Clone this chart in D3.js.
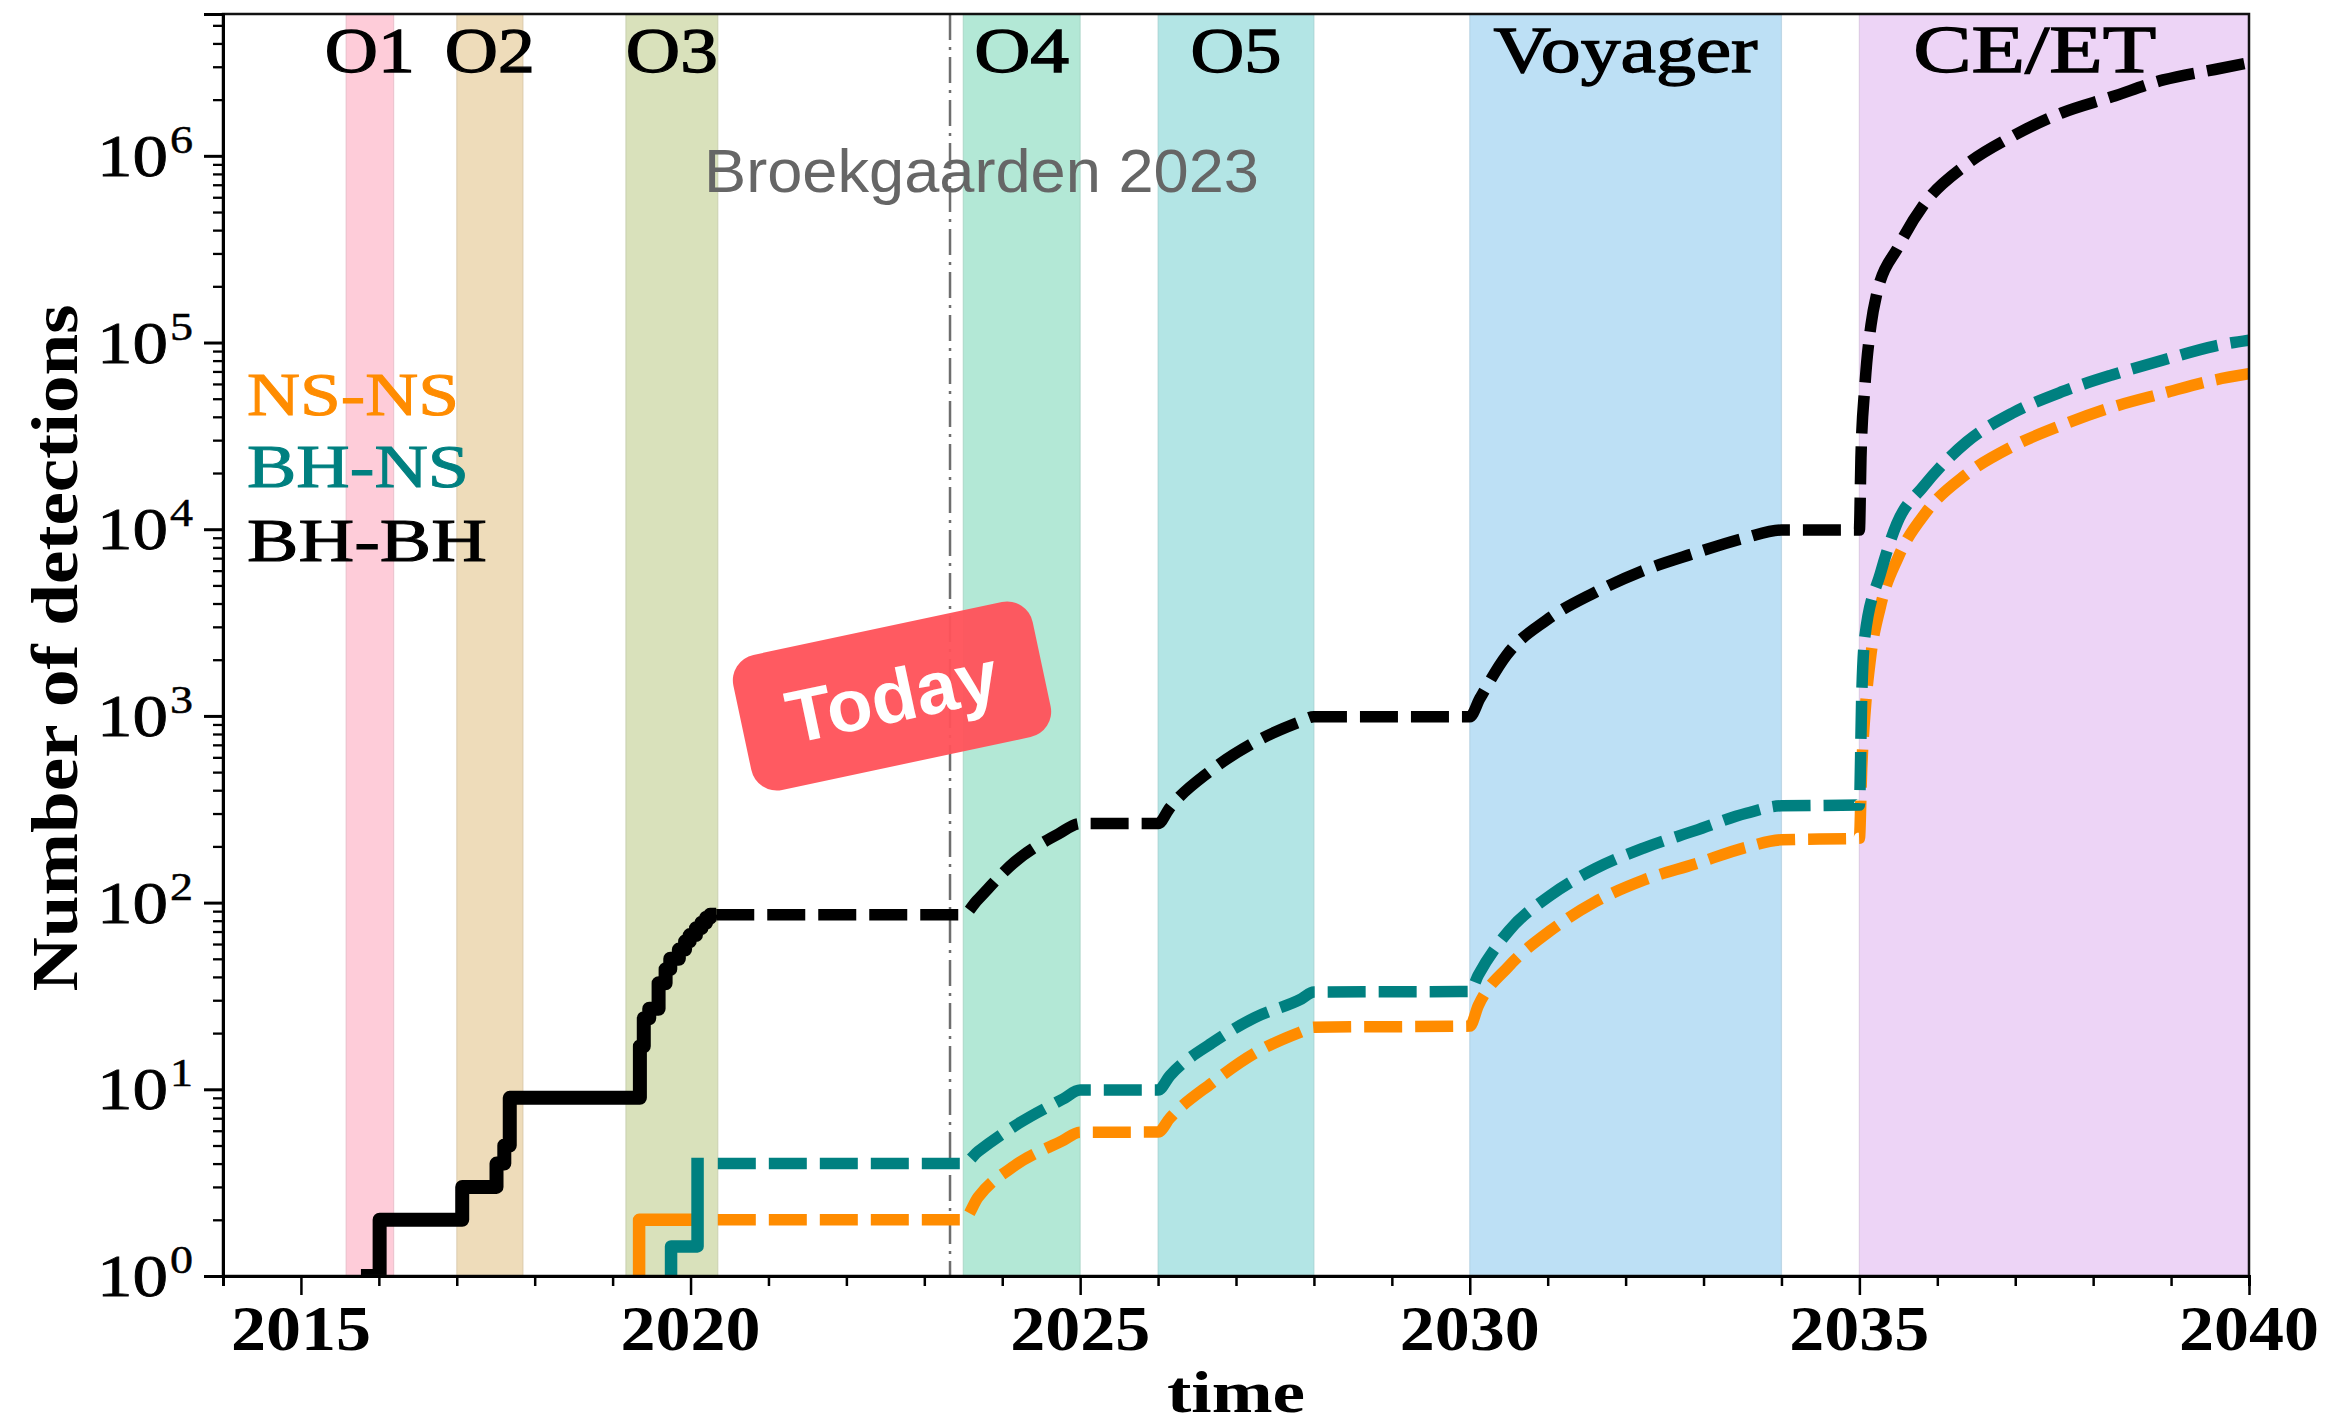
<!DOCTYPE html>
<html><head><meta charset="utf-8">
<script src="https://cdn.jsdelivr.net/npm/d3@7"></script>
<style>html,body{margin:0;padding:0;background:#fff;} svg{display:block;}</style>
</head><body>
<svg id="chart" width="2326" height="1424"></svg>
<script>
// ---------------- data ----------------
const bandNames  = ["O1", "O2", "O3", "O4", "O5", "Voyager", "CE/ET"];
const bandStart  = [2015.58, 2017.0, 2019.17, 2023.5, 2026.0, 2030.0, 2035.0];
const bandEnd    = [2016.19, 2017.85, 2020.35, 2025.0, 2028.0, 2034.0, 2040.0];
const bandLabelX = [2015.885, 2017.425, 2019.76, 2024.25, 2027.0, 2032.0, 2037.25];
const bandColors = ["#FECCD9", "#EEDCBA", "#D9E1BB", "#B3E8D6", "#B3E5E5", "#BDE0F5", "#EDD4F6"];

const todayYear = 2023.33;
const sourceLabel = "Broekgaarden 2023";
const todayLabel = "Today";

const seriesNames  = ["NS-NS", "BH-NS", "BH-BH"];
const seriesColors = ["#FF8C00", "#008080", "#000000"];

// observed (solid, step) counts: [year, cumulative detections]
const nsnsObserved = [[2019.2, 0.5], [2019.34, 2], [2020.09, 2]];
const bhnsObserved = [[2019.6, 0.5], [2019.75, 1.44], [2020.09, 4.3]];
const bhbhObserved = [
  [2015.77, 1], [2016.01, 2], [2017.07, 3], [2017.51, 4], [2017.61, 5], [2017.68, 9],
  [2019.35, 17], [2019.40, 24], [2019.47, 27], [2019.59, 37], [2019.68, 44], [2019.74, 50],
  [2019.85, 56], [2019.93, 62], [2019.99, 67], [2020.07, 73], [2020.14, 78], [2020.20, 83],
  [2020.25, 86], [2020.33, 86]
];

// projected (dashed) counts: [year, cumulative detections]
const nsnsProjected = [
  [2020.35, 2], [2023.5, 2], [2023.69, 2.64], [2024.16, 3.9], [2024.77, 5.29], [2025.0, 5.89],
  [2026.0, 5.9], [2026.15, 7.0], [2026.69, 10.8], [2027.24, 15.6], [2027.82, 20.2], [2028.0, 21.5],
  [2030.0, 21.8], [2030.11, 28.1], [2030.5, 45.6], [2031.03, 70.5], [2031.61, 101], [2032.23, 132],
  [2032.89, 161], [2033.55, 198], [2034.0, 217], [2035.0, 221], [2035.03, 525], [2035.07, 1010],
  [2035.14, 2000], [2035.27, 3850], [2035.5, 7100], [2035.86, 12400], [2036.36, 19500],
  [2036.96, 27700], [2037.6, 36100], [2038.24, 45000], [2038.9, 53500], [2039.56, 63000], [2040.0, 68000]
];
const bhnsProjected = [
  [2020.35, 4], [2023.5, 4], [2023.69, 4.64], [2024.21, 6.56], [2024.78, 8.87], [2025.0, 9.9],
  [2026.0, 9.9], [2026.15, 11.8], [2026.69, 17.7], [2027.24, 24.2], [2027.84, 30.5], [2028.0, 33.2],
  [2030.0, 33.4], [2030.11, 41], [2030.5, 70.5], [2031.03, 109], [2031.61, 152], [2032.23, 196],
  [2032.89, 243], [2033.55, 301], [2034.0, 330], [2035.0, 333], [2035.03, 1270], [2035.07, 2650],
  [2035.27, 5800], [2035.48, 10700], [2035.82, 16900], [2036.38, 29400], [2036.96, 41800],
  [2037.6, 54500], [2038.24, 67000], [2038.9, 80600], [2039.56, 95800], [2040.0, 103000]
];
const bhbhProjected = [
  [2020.33, 86], [2023.5, 86], [2023.67, 102], [2024.16, 165], [2024.72, 233], [2025.0, 265],
  [2026.0, 265], [2026.15, 322], [2026.67, 507], [2027.22, 716], [2027.82, 929], [2028.0, 990],
  [2030.0, 990], [2030.13, 1240], [2030.47, 2110], [2030.99, 3270], [2031.59, 4550], [2032.21, 5970],
  [2032.87, 7400], [2033.53, 8980], [2034.0, 9900], [2035.0, 9900], [2035.02, 24000], [2035.07, 58000],
  [2035.15, 125000], [2035.22, 180000], [2035.5, 326000], [2035.84, 557000], [2036.36, 890000],
  [2036.96, 1270000], [2037.6, 1700000], [2038.24, 2070000], [2038.9, 2550000], [2039.56, 2900000],
  [2040.0, 3150000]
];

const xTickYears  = [2015, 2020, 2025, 2030, 2035, 2040];
const xMinorYears = d3.range(2014, 2041);
const yTickPowers = [0, 1, 2, 3, 4, 5, 6];
const xDomain = [2014, 2040];
const yDomain = [1, 5.75e6];
const xTitle = "time";
const yTitle = "Number of detections";

// ---------------- layout ----------------
const W = 2326, H = 1424;
const plot = {left: 223, right: 2249, top: 14, bottom: 1276};
const serif = "'Liberation Serif', 'Times New Roman', serif";
const sans = "'Liberation Sans', Arial, sans-serif";

const svg = d3.select("#chart");
svg.append("rect").attr("width", W).attr("height", H).attr("fill", "#fff");

const x = d3.scaleLinear().domain(xDomain).range([plot.left, plot.right]);
const y = d3.scaleLog().domain(yDomain).range([plot.bottom, plot.top]);

svg.append("defs").append("clipPath").attr("id", "clip")
  .append("rect").attr("x", plot.left).attr("y", plot.top)
  .attr("width", plot.right - plot.left).attr("height", plot.bottom - plot.top);

// bands
const bands = bandNames.map((n, i) => ({name: n, s: bandStart[i], e: bandEnd[i], lx: bandLabelX[i], c: bandColors[i]}));
svg.append("g").selectAll("rect").data(bands).join("rect")
  .attr("x", d => x(d.s)).attr("y", plot.top)
  .attr("width", d => x(d.e) - x(d.s)).attr("height", plot.bottom - plot.top)
  .attr("fill", d => d.c)
  .attr("stroke", d => d3.color(d.c).darker(0.35)).attr("stroke-width", 1.2).attr("stroke-opacity", 0.6);

// today line
svg.append("line")
  .attr("x1", x(todayYear)).attr("x2", x(todayYear))
  .attr("y1", plot.top).attr("y2", plot.bottom)
  .attr("stroke", "#6e6e6e").attr("stroke-width", 2.5)
  .attr("stroke-dasharray", "26,7,3,7");

// band labels
const bandLabelSize = {"O1": [64, 90], "O2": [64, 90], "O3": [64, 92], "O4": [64, 95], "O5": [64, 91], "Voyager": [66, 264], "CE/ET": [68, 243]};
svg.append("g").selectAll("text").data(bands).join("text")
  .attr("x", d => x(d.lx)).attr("y", 72)
  .attr("text-anchor", "middle")
  .attr("font-family", serif)
  .attr("font-size", d => bandLabelSize[d.name][0])
  .attr("textLength", d => bandLabelSize[d.name][1])
  .attr("lengthAdjust", "spacingAndGlyphs")
  .attr("fill", "#000").attr("stroke", "#000").attr("stroke-width", 1.3)
  .text(d => d.name);

// source label
svg.append("text").attr("x", 704).attr("y", 192)
  .attr("font-family", sans).attr("font-size", 62).attr("fill", "#666")
  .attr("textLength", 555).attr("lengthAdjust", "spacingAndGlyphs")
  .text(sourceLabel);

// lines
const lineGen = d3.line().x(d => x(d[0])).y(d => y(d[1])).curve(d3.curveMonotoneX);
const stepGen = d3.line().x(d => x(d[0])).y(d => y(d[1])).curve(d3.curveStepAfter);
const gl = svg.append("g").attr("clip-path", "url(#clip)");
const observed = [nsnsObserved, bhnsObserved, bhbhObserved];
const projected = [nsnsProjected, bhnsProjected, bhbhProjected];
const solidWidth = [12.5, 12.5, 14];
seriesNames.forEach((n, i) => {
  gl.append("path").datum(projected[i]).attr("d", lineGen)
    .attr("fill", "none").attr("stroke", seriesColors[i]).attr("stroke-width", 11.5)
    .attr("stroke-dasharray", "38,13").attr("stroke-linejoin", "round");
  gl.append("path").datum(observed[i]).attr("d", stepGen)
    .attr("fill", "none").attr("stroke", seriesColors[i]).attr("stroke-width", solidWidth[i])
    .attr("stroke-linejoin", "round").attr("stroke-linecap", "butt");
});

// legend
const legendY = [415, 487, 561];
const legendW = [212, 222, 240];
svg.append("g").selectAll("text").data(seriesNames).join("text")
  .attr("x", 247).attr("y", (d, i) => legendY[i])
  .attr("font-family", serif).attr("font-size", 62)
  .attr("fill", (d, i) => seriesColors[i]).attr("stroke", (d, i) => seriesColors[i]).attr("stroke-width", 1)
  .attr("textLength", (d, i) => legendW[i]).attr("lengthAdjust", "spacingAndGlyphs")
  .text(d => d);

// frame
svg.append("rect").attr("x", plot.left).attr("y", plot.top)
  .attr("width", plot.right - plot.left).attr("height", plot.bottom - plot.top)
  .attr("fill", "none").attr("stroke", "#111").attr("stroke-width", 2.5);

// x axis
const xAxis = d3.axisBottom(x).tickValues(xMinorYears).tickSize(10).tickFormat("");
const gx = svg.append("g").attr("transform", `translate(0,${plot.bottom})`).call(xAxis);
gx.select(".domain").attr("stroke", "#000").attr("stroke-width", 3);
gx.selectAll(".tick line").attr("stroke", "#000").attr("stroke-width", 2.5)
  .attr("y2", d => xTickYears.includes(d) ? 19 : 10);
svg.append("g").selectAll("text").data(xTickYears).join("text")
  .attr("x", d => x(d)).attr("y", 1350).attr("text-anchor", "middle")
  .attr("font-family", serif).attr("font-weight", "bold").attr("font-size", 64)
  .attr("textLength", 140).attr("lengthAdjust", "spacingAndGlyphs")
  .text(d => d);

// y axis
const yTicks = y.ticks().filter(v => v >= 1 && v <= yDomain[1]);
const isMajor = v => Math.abs(Math.log10(v) - Math.round(Math.log10(v))) < 1e-9;
const yAxis = d3.axisLeft(y).tickValues(yTicks).tickSize(19).tickFormat("");
const gy = svg.append("g").attr("transform", `translate(${plot.left},0)`).call(yAxis);
gy.select(".domain").attr("stroke", "#000").attr("stroke-width", 3);
gy.selectAll(".tick line").attr("stroke", "#000")
  .attr("stroke-width", d => isMajor(d) ? 3 : 2.3)
  .attr("x2", d => isMajor(d) ? -19 : -10);
const gyl = svg.append("g").selectAll("g").data(yTickPowers).join("g")
  .attr("transform", p => `translate(0,${y(Math.pow(10, p))})`);
gyl.append("text").attr("x", 168).attr("y", 20).attr("text-anchor", "end")
  .attr("font-family", serif).attr("font-size", 60).attr("stroke", "#000").attr("stroke-width", 0.8)
  .attr("textLength", 71).attr("lengthAdjust", "spacingAndGlyphs").text("10");
gyl.append("text").attr("x", 170).attr("y", -3)
  .attr("font-family", serif).attr("font-size", 40).attr("stroke", "#000").attr("stroke-width", 0.5)
  .attr("textLength", 23).attr("lengthAdjust", "spacingAndGlyphs").text(p => p);

// axis titles
svg.append("text").attr("transform", "translate(77,648) rotate(-90)")
  .attr("text-anchor", "middle").attr("font-family", serif).attr("font-weight", "bold")
  .attr("font-size", 66).attr("textLength", 687).attr("lengthAdjust", "spacingAndGlyphs")
  .text(yTitle);
svg.append("text").attr("x", (plot.left + plot.right) / 2).attr("y", 1412)
  .attr("text-anchor", "middle").attr("font-family", serif).attr("font-weight", "bold")
  .attr("font-size", 60).attr("textLength", 138).attr("lengthAdjust", "spacingAndGlyphs")
  .text(xTitle);

// Today badge
const badge = svg.append("g").attr("transform", "translate(892,696) rotate(-12)");
badge.append("rect").attr("x", -153).attr("y", -69).attr("width", 306).attr("height", 138)
  .attr("rx", 26).attr("ry", 26).attr("fill", "#FF535B").attr("fill-opacity", 0.96);
badge.append("text").attr("x", 0).attr("y", 26).attr("text-anchor", "middle")
  .attr("font-family", sans).attr("font-weight", "bold").attr("font-size", 74)
  .attr("fill", "#fff").attr("textLength", 214).attr("lengthAdjust", "spacingAndGlyphs")
  .text(todayLabel);
</script>
</body></html>
